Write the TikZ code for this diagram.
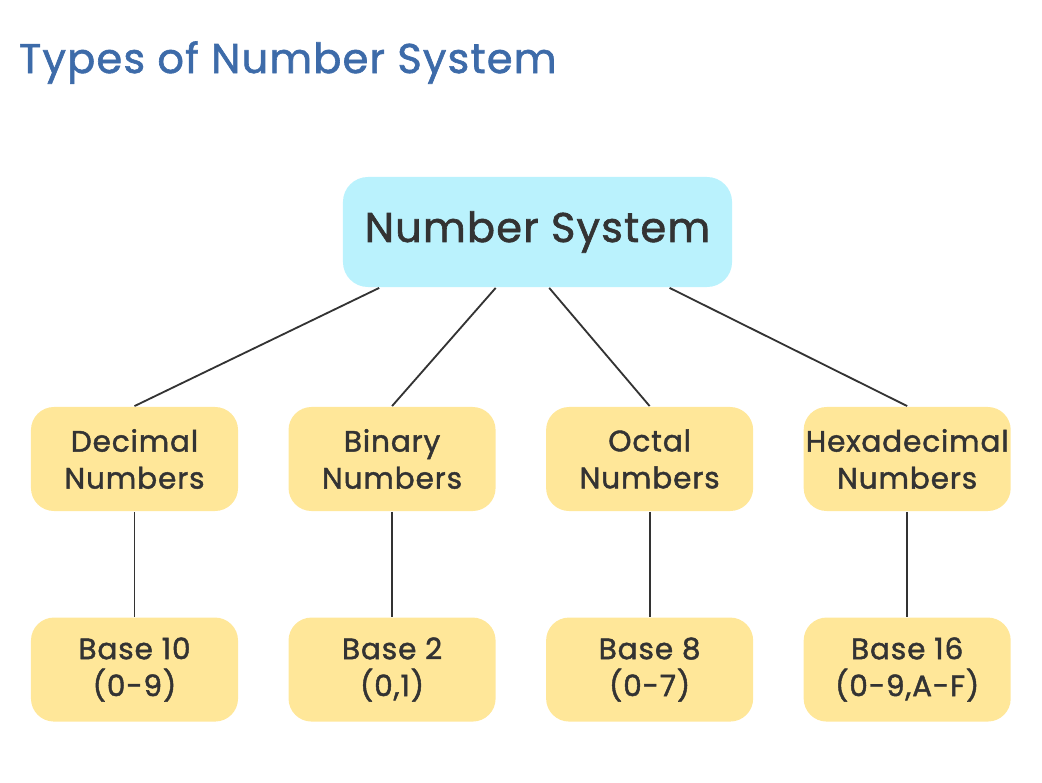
\documentclass[tikz,border=0pt]{standalone}
\usepackage{fontspec}
\setmainfont{Poppins}[LetterSpace=3, FakeBold=1.5]
\usetikzlibrary{positioning,calc}
\definecolor{rootblue}{HTML}{BAF2FD}
\definecolor{boxyellow}{HTML}{FFE799}
\definecolor{textgray}{HTML}{333333}
\definecolor{titleblue}{HTML}{3D6BA9}
\begin{document}
\begin{tikzpicture}[x=0.025cm, y=-0.025cm, node distance={6.4375cm}, line width=1.3pt,
    main/.style = {fill=boxyellow, rounded corners=0.575cm, minimum width=5.175cm, minimum height=2.6cm, inner sep=1pt, align=center, text=textgray, font=\fontsize{21}{26.3}\selectfont},
    root/.style = {fill=rootblue, rounded corners=0.625cm, minimum width=9.725cm, minimum height=2.75cm, text=textgray, font=\fontsize{29.5}{34}\selectfont}]
    \useasboundingbox (0,0) rectangle (1042,783);
    \node[anchor=base west, text=titleblue, font=\fontsize{29.5}{34}\selectfont, inner sep=0pt] (title) at (18,73) {Types of Number System};
    \node[root] (ns) at (537.5,232) {Number System};
    \node[main] (d1) at (134.5,459) {Decimal\\Numbers};
    \node[main] (d2) [right of=d1] {Binary\\Numbers};
    \node[main] (d3) [right of=d2] {Octal\\Numbers};
    \node[main] (d4) [right of=d3] {Hexadecimal\\Numbers};
    \node[main] (b1) [below of=d1, node distance=5.2625cm] {Base 10\\(0-9)};
    \node[main] (b2) [below of=d2, node distance=5.2625cm] {Base 2\\(0,1)};
    \node[main] (b3) [below of=d3, node distance=5.2625cm] {Base 8\\(0-7)};
    \node[main] (b4) [below of=d4, node distance=5.2625cm] {Base 16\\(0-9,A-F)};
    \coordinate (n1) at ($(ns.south west)!0.095!(ns.south east)$);
    \coordinate (n2) at ($(ns.south west)!0.393!(ns.south east)$);
    \coordinate (n3) at ($(ns.south west)!0.530!(ns.south east)$);
    \coordinate (n4) at ($(ns.south west)!0.838!(ns.south east)$);
    \draw[textgray] (n1) -- (d1.north);
    \draw[textgray] (n2) -- (d2.north);
    \draw[textgray] (n3) -- (d3.north);
    \draw[textgray] (n4) -- (d4.north);
    \draw[textgray] (d1) -- (b1);
    \draw[textgray] (d2) -- (b2);
    \draw[textgray] (d3) -- (b3);
    \draw[textgray] (d4) -- (b4);
\end{tikzpicture}
\end{document}
